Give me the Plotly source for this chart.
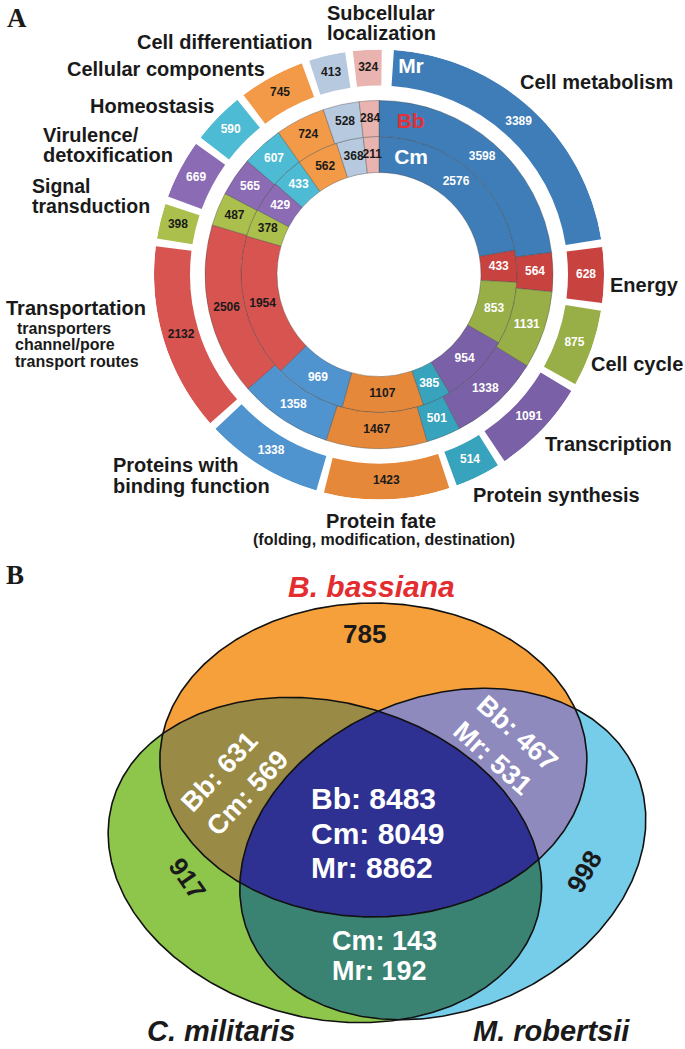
import numpy as np
import plotly.graph_objects as go

# ---------------- DATA ----------------
categories = ["Cell metabolism", "Energy", "Cell cycle", "Transcription", "Protein synthesis",
              "Protein fate", "Proteins with binding function", "Transportation",
              "Signal transduction", "Virulence/detoxification", "Homeostasis",
              "Cellular components", "Cell differentiation", "Subcellular localization"]
mr_counts = [3389, 628, 875, 1091, 514, 1423, 1338, 2132, 398, 669, 590, 745, 413, 324]
bb_counts = [3598, 564, 1131, 1338, 501, 1467, 1358, 2506, 487, 565, 607, 724, 528, 284]
cm_counts = [2576, 433, 853, 954, 385, 1107, 969, 1954, 378, 429, 433, 562, 368, 211]

venn_bb_only = 785
venn_cm_only = 917
venn_mr_only = 998
venn_bb_cm = {"Bb": 631, "Cm": 569}
venn_bb_mr = {"Bb": 467, "Mr": 531}
venn_cm_mr = {"Cm": 143, "Mr": 192}
venn_all = {"Bb": 8483, "Cm": 8049, "Mr": 8862}

# ---------------- STYLE ----------------
cat_colors = ["#3E7DB8", "#C8423F", "#98AE47", "#7A60A6", "#38A3BC", "#E6883A", "#4F93CF",
              "#D85451", "#AABF4C", "#8A6BB4", "#4DBBD3", "#F39A48", "#B7C9DF", "#E9B4AF"]
cat_text_white = [True, True, True, True, True, False, True, False, False, True, True, False, False, False]
DARK = "#1a1a1a"
FONT = "Liberation Sans, Arial, sans-serif"

W, H = 685, 1049
CX, CY = 379, 274.5          # centre of ring chart (pixels)
RMAX = 225
R_CM = (102, 138)
R_BB = (138, 174)
R_MR = (189, 225)

fig = go.Figure()


def ring_angles(values, start, gap, last_gap):
    total_gap = gap * (len(values) - 1) + last_gap
    s = (360.0 - total_gap) / float(sum(values))
    centers, widths = [], []
    a = start
    for i, v in enumerate(values):
        w = v * s
        centers.append(a + w / 2)
        widths.append(w)
        a += w + (gap if i < len(values) - 1 else 0)
    return centers, widths


rings = [
    (cm_counts, R_CM, 0.0, 0.0, 0.0, True),
    (bb_counts, R_BB, 0.0, 0.0, 0.0, True),
    (mr_counts, R_MR, 3.8, 2.0, 3.1, False),
]
for vals, (r0, r1), start, gap, lgap, border in rings:
    th, wd = ring_angles(vals, start, gap, lgap)
    fig.add_trace(go.Barpolar(
        r=[r1 - r0] * len(vals), base=[r0] * len(vals), theta=th, width=wd,
        marker=dict(color=cat_colors,
                    line=dict(color="rgba(70,70,70,0.55)" if border else "rgba(0,0,0,0)",
                              width=0.7 if border else 0)),
        hoverinfo="skip", showlegend=False))
    fig.add_trace(go.Scatterpolar(
        r=[(r0 + r1) / 2] * len(vals), theta=th, mode="text",
        text=[str(v) for v in vals],
        textfont=dict(family=FONT, size=12, weight="bold",
                      color=["white" if wt else DARK for wt in cat_text_white]),
        hoverinfo="skip", showlegend=False, cliponaxis=False))

# ring names
fig.add_trace(go.Scatterpolar(
    r=[209, 155, 120], theta=[8.8, 11.8, 15.5], mode="text",
    text=["Mr", "Bb", "Cm"],
    textfont=dict(family=FONT, size=21, weight="bold", color=["white", "#E0323A", "white"]),
    hoverinfo="skip", showlegend=False, cliponaxis=False))

# ---------------- VENN ----------------
SX = 1.31   # horizontal stretch of the Venn ellipses


def ellipse(cx, cy, a, b, ang, n=480):
    t = np.linspace(0, 2 * np.pi, n, endpoint=False)
    x, y = a * np.cos(t), b * np.sin(t)
    c, s = np.cos(np.radians(ang)), np.sin(np.radians(ang))
    return np.column_stack([(cx + x * c - y * s) * SX, cy + x * s + y * c])


def clip(subject, clipper):
    area = np.sum(clipper[:, 0] * np.roll(clipper[:, 1], -1) - np.roll(clipper[:, 0], -1) * clipper[:, 1])
    sgn = 1 if area > 0 else -1

    def inside(p, a, b):
        return sgn * ((b[0] - a[0]) * (p[1] - a[1]) - (b[1] - a[1]) * (p[0] - a[0])) >= 0

    def inter(p, q, a, b):
        d1 = q - p
        d2 = b - a
        den = d1[0] * d2[1] - d1[1] * d2[0]
        t = ((a[0] - p[0]) * d2[1] - (a[1] - p[1]) * d2[0]) / den
        return p + t * d1

    out = [np.array(p) for p in subject]
    for i in range(len(clipper)):
        a, b = clipper[i - 1], clipper[i]
        inp, out = out, []
        if not inp:
            break
        for j in range(len(inp)):
            p, q = inp[j - 1], inp[j]
            if inside(q, a, b):
                if not inside(p, a, b):
                    out.append(inter(p, q, a, b))
                out.append(q)
            elif inside(p, a, b):
                out.append(inter(p, q, a, b))
    return np.array(out)


E_bb = ellipse(285, 760, 163, 157, 0)
E_cm = ellipse(248, 860, 177, 150, 42)
E_mr = ellipse(338, 854, 177, 142, -54)

bb_cm = clip(E_bb, E_cm)
bb_mr = clip(E_bb, E_mr)
cm_mr = clip(E_cm, E_mr)
allp = clip(bb_cm, E_mr)

regions = [(E_cm, "#8DC64B"), (E_mr, "#76CDEA"), (E_bb, "#F5A03A"),
           (bb_cm, "#998A46"), (bb_mr, "#8E8ABE"), (cm_mr, "#3A8373"), (allp, "#2E3192")]
for poly, col in regions:
    xs = list(poly[:, 0]) + [poly[0, 0]]
    ys = list(poly[:, 1]) + [poly[0, 1]]
    fig.add_trace(go.Scatter(x=xs, y=ys, mode="lines", fill="toself", fillcolor=col,
                             line=dict(width=0), hoverinfo="skip", showlegend=False))
for poly in (E_bb, E_cm, E_mr):
    xs = list(poly[:, 0]) + [poly[0, 0]]
    ys = list(poly[:, 1]) + [poly[0, 1]]
    fig.add_trace(go.Scatter(x=xs, y=ys, mode="lines", line=dict(color="#111", width=1.6),
                             hoverinfo="skip", showlegend=False))

# ---------------- ANNOTATIONS ----------------
ann = []


def A(text, x, y, size=20, color=DARK, xanchor="left", family=FONT, angle=0, align="left",
      yanchor="middle"):
    ann.append(dict(text=text, x=x, y=y, xref="x", yref="y", showarrow=False, xanchor=xanchor,
                    yanchor=yanchor, align=align, textangle=angle,
                    font=dict(family=family, size=size, color=color)))


B = lambda s: "<b>" + s + "</b>"
SERIF = "Liberation Serif, Times New Roman, serif"

A(B("A"), 5, 18, size=27, family=SERIF)
A(B("B"), 4, 575, size=27, family=SERIF)

A(B("Cell metabolism"), 518, 82)
A(B("Energy"), 608, 285)
A(B("Cell cycle"), 589, 364)
A(B("Transcription"), 543, 444)
A(B("Protein synthesis"), 471, 495)
A(B("Protein fate"), 381, 521, xanchor="center")
A(B("(folding, modification, destination)"), 384, 539, size=16, xanchor="center")
A(B("Proteins with"), 111, 465)
A(B("binding function"), 111, 486)
A(B("Transportation"), 4, 308)
A(B("transporters"), 15, 328, size=16)
A(B("channel/pore"), 13, 344, size=16)
A(B("transport routes"), 13, 361, size=16)
A(B("Signal"), 30, 186, size=19.5)
A(B("transduction"), 30, 206, size=19.5)
A(B("Virulence/"), 41, 135)
A(B("detoxification"), 41, 155)
A(B("Homeostasis"), 88, 106)
A(B("Cellular components"), 65, 69)
A(B("Cell differentiation"), 135, 42)
A(B("Subcellular"), 381, 13, xanchor="center")
A(B("localization"), 381, 33, xanchor="center")

# Venn texts
A(B("<i>B. bassiana</i>"), 371, 586, size=30, color="#E42D30", xanchor="center")
A(B("<i>C. militaris</i>"), 221, 1049, size=29, xanchor="center", yanchor="bottom")
A(B("<i>M. robertsii</i>"), 551, 1049, size=29, xanchor="center", yanchor="bottom")
A(B(str(venn_bb_only)), 364, 634, size=26, xanchor="center")
A(B(str(venn_cm_only)), 187, 878, size=26, xanchor="center", angle=55)
A(B(str(venn_mr_only)), 584, 872, size=26, xanchor="center", angle=-60)
A(B("Bb: %d<br>Cm: %d" % (venn_bb_cm["Bb"], venn_bb_cm["Cm"])), 234, 781, size=27,
  color="white", xanchor="center", angle=-47, align="left")
A(B("Bb: %d<br>Mr: %d" % (venn_bb_mr["Bb"], venn_bb_mr["Mr"])), 506, 746, size=27,
  color="white", xanchor="center", angle=42, align="left")
A(B("Bb: %d" % venn_all["Bb"]), 309, 798, size=30, color="white")
A(B("Cm: %d" % venn_all["Cm"]), 309, 833, size=30, color="white")
A(B("Mr: %d" % venn_all["Mr"]), 309, 867, size=30, color="white")
A(B("Cm: %d" % venn_cm_mr["Cm"]), 330, 941, size=27, color="white")
A(B("Mr: %d" % venn_cm_mr["Mr"]), 330, 971, size=27, color="white")

fig.update_layout(
    width=W, height=H, margin=dict(l=0, r=0, t=0, b=0),
    paper_bgcolor="white", plot_bgcolor="rgba(0,0,0,0)", showlegend=False,
    font=dict(family=FONT),
    xaxis=dict(range=[0, W], domain=[0, 1], visible=False, fixedrange=True),
    yaxis=dict(range=[H, 0], domain=[0, 1], visible=False, fixedrange=True),
    polar=dict(
        domain=dict(x=[(CX - RMAX) / W, (CX + RMAX) / W],
                    y=[(H - CY - RMAX) / H, (H - CY + RMAX) / H]),
        bgcolor="rgba(0,0,0,0)", barmode="overlay", bargap=0, hole=0,
        radialaxis=dict(range=[0, RMAX], visible=False, showgrid=False),
        angularaxis=dict(rotation=90, direction="clockwise", visible=False, showgrid=False),
    ),
    annotations=ann,
)

fig.write_html("out.html", config={"displayModeBar": False},
               post_script="document.body.style.margin='0px';document.body.style.overflow='hidden';")
